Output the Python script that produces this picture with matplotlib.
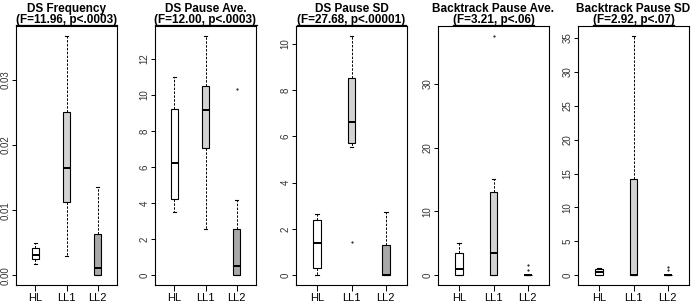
import matplotlib
matplotlib.use("Agg")
import matplotlib.pyplot as plt
from matplotlib.lines import Line2D

plt.rcParams['font.family'] = ['Liberation Sans', 'DejaVu Sans']

groups = ["HL", "LL1", "LL2"]
colors = ["#ffffff", "#d3d3d3", "#a9a9a9"]

titles = ["DS Frequency", "DS Pause Ave.", "DS Pause SD",
          "Backtrack Pause Ave.", "Backtrack Pause SD"]
subtitles = ["(F=11.96, p<.0003)", "(F=12.00, p<.0003)", "(F=27.68, p<.00001)",
             "(F=3.21, p<.06)", "(F=2.92, p<.07)"]

# per panel: [HL, LL1, LL2] -> (whislo, q1, med, q3, whishi)
ds_freq = [(0.0018, 0.0025, 0.0031, 0.0042, 0.0050),
           (0.0030, 0.0112, 0.0165, 0.0250, 0.0368),
           (0.0000, 0.0000, 0.0011, 0.0063, 0.0136)]
ds_freq_out = [[], [], []]

ds_pave = [(3.5, 4.25, 6.25, 9.25, 11.0),
           (2.6, 7.05, 9.2, 10.5, 13.3),
           (0.0, 0.0, 0.5, 2.6, 4.2)]
ds_pave_out = [[], [], [10.35]]

ds_psd = [(0.0, 0.33, 1.4, 2.38, 2.65),
          (5.55, 5.7, 6.6, 8.5, 10.35),
          (0.0, 0.0, 0.0, 1.3, 2.75)]
ds_psd_out = [[], [1.43], []]

bt_pave = [(0.0, 0.0, 1.0, 3.5, 5.0),
           (0.0, 0.0, 3.5, 13.0, 15.0),
           (0.0, 0.0, 0.0, 0.0, 0.0)]
bt_pave_out = [[], [37.5], [1.6, 0.9]]

bt_psd = [(0.0, 0.05, 0.45, 0.9, 1.1),
          (0.0, 0.0, 0.0, 14.2, 35.3),
          (0.0, 0.0, 0.0, 0.0, 0.0)]
bt_psd_out = [[], [], [1.3, 0.8]]

panels = [(ds_freq, ds_freq_out, [0.0, 0.01, 0.02, 0.03], ["0.00", "0.01", "0.02", "0.03"]),
          (ds_pave, ds_pave_out, [0, 2, 4, 6, 8, 10, 12], None),
          (ds_psd, ds_psd_out, [0, 2, 4, 6, 8, 10], None),
          (bt_pave, bt_pave_out, [0, 10, 20, 30], None),
          (bt_psd, bt_psd_out, [0, 5, 10, 15, 20, 25, 30, 35], None)]

W, H = 692, 304
fig = plt.figure(figsize=(W / 100, H / 100), dpi=100)

lefts = [16, 155, 296, 438, 578]
rights = [117, 256, 407, 549, 689]
top_px, bot_px = 26, 285

subs = []
for i, (stats5, outs, yt, ytl) in enumerate(panels):
    ax = fig.add_axes([lefts[i] / W, (H - bot_px) / H,
                       (rights[i] - lefts[i]) / W, (bot_px - top_px) / H])
    stats = []
    for g, s, o in zip(groups, stats5, outs):
        stats.append(dict(label=g, whislo=s[0], q1=s[1], med=s[2], q3=s[3],
                          whishi=s[4], fliers=o))
    bp = ax.bxp(stats, positions=[1, 2, 3], widths=0.22, patch_artist=True,
                boxprops=dict(linewidth=0.8, edgecolor='black'),
                medianprops=dict(color='black', linewidth=1.4),
                whiskerprops=dict(color='black', linewidth=0.7, linestyle=(0, (2.5, 1.5))),
                capprops=dict(color='black', linewidth=0.8),
                capwidths=0.11,
                flierprops=dict(marker='.', markersize=1.0, markerfacecolor='black',
                                markeredgecolor='black', linestyle='none'))
    for patch, c in zip(bp['boxes'], colors):
        patch.set_facecolor(c)
    # R-style 4% extension
    allv = [v for s in stats5 for v in s] + [v for o in outs for v in o]
    lo, hi = min(allv), max(allv)
    r = hi - lo
    ax.set_ylim(lo - 0.04 * r, hi + 0.04 * r)
    ax.set_xlim(0.5 - 0.04 * 3, 3.5 + 0.04 * 3)
    ax.set_yticks(yt)
    if ytl is not None:
        ax.set_yticklabels(ytl)
    ax.set_xticks([1, 2, 3])
    ax.set_xticklabels(groups)
    ax.tick_params(axis='y', labelrotation=90, labelsize=7, length=3, width=0.7,
                   pad=1, labelcolor='#333333')
    ax.tick_params(axis='x', labelsize=8, length=4, width=0.7, pad=1.5)
    for lab in ax.get_yticklabels():
        lab.set_verticalalignment('center')
    for sp in ax.spines.values():
        sp.set_linewidth(0.8)
    cx = (lefts[i] + rights[i]) / 2 / W
    fig.text(cx, 1 - 9 / H, titles[i], ha='center', va='center',
             fontsize=8.5, fontweight='bold')
    t2 = fig.text(cx, 1 - 19.5 / H, subtitles[i], ha='center', va='center',
                  fontsize=8.5, fontweight='bold')
    subs.append(t2)

fig.canvas.draw()
rend = fig.canvas.get_renderer()
for t2 in subs:
    bb = t2.get_window_extent(renderer=rend)
    y = (bb.y0 + 0.5) / H
    fig.add_artist(Line2D([bb.x0 / W, bb.x1 / W], [y, y], color='black',
                          linewidth=0.9, transform=fig.transFigure))

fig.savefig("out.png", dpi=100)
